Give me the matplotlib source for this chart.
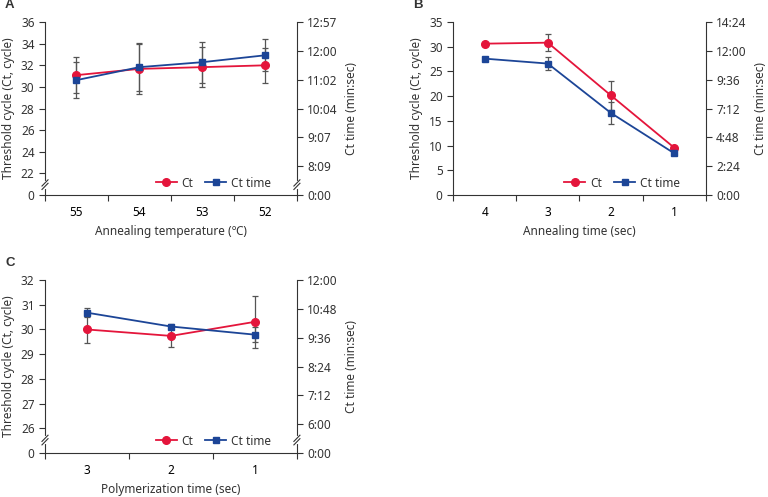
import numpy as np
import matplotlib
matplotlib.use("Agg")
import matplotlib.pyplot as plt

plt.rcParams['font.family'] = ['Noto Sans', 'DejaVu Sans']
plt.rcParams['font.size'] = 8.5

RED = '#e4153b'
BLUE = '#1c4597'
GREY = '#333333'

# Panel A: annealing temperature
a_labels = ['55', '54', '53', '52']
a_ct = [31.09, 31.67, 31.83, 32.0]
a_ct_err = [1.66, 2.3, 1.85, 1.6]
a_time = [30.63, 31.83, 32.29, 32.93]
a_time_err = [1.66, 2.2, 1.9, 1.5]

# Panel B: annealing time
b_labels = ['4', '3', '2', '1']
b_ct = [30.63, 30.83, 20.15, 9.6]
b_ct_err = [0.2, 1.7, 2.85, 0.2]
b_time = [27.6, 26.6, 16.6, 8.46]
b_time_err = [0.2, 1.35, 2.2, 0.2]

# Panel C: polymerization time
c_labels = ['3', '2', '1']
c_ct = [30.0, 29.74, 30.31]
c_ct_err = [0.53, 0.46, 1.05]
c_time = [30.68, 30.12, 29.79]
c_time_err = [0.17, 0.1, 0.3]


def mmss(s):
    s = int(s + 1e-6)
    return '%d:%02d' % (s // 60, s % 60)


def break_marks(ax, x, y):
    # little "//" mark on a spine, in axes coords
    kw = dict(transform=ax.transAxes, clip_on=False, zorder=10)
    ax.plot([x, x], [y - 0.012, y + 0.012], color='white', lw=3, **kw)
    for d in (-0.01, 0.01):
        ax.plot([x - 0.012, x + 0.012], [y + d - 0.018, y + d + 0.018],
                color=GREY, lw=0.8, **kw)


def panel(rect, letter, labels, ct, ct_err, tm, tm_err, xlabel,
          ylim, yticks, yticklabels, rlim, rticks, rticklabels, brk):
    ax = fig.add_axes(rect)
    n = len(labels)
    x = np.arange(n) + 0.5
    ax.errorbar(x, ct, yerr=ct_err, fmt='none', ecolor='#555555', elinewidth=0.9,
                capsize=2.5, capthick=0.9, zorder=2)
    ax.errorbar(x, tm, yerr=tm_err, fmt='none', ecolor='#555555', elinewidth=0.9,
                capsize=2.5, capthick=0.9, zorder=2)
    ax.plot(x, ct, color=RED, marker='o', ms=5.5, lw=1.3, label='Ct', zorder=3)
    ax.plot(x, tm, color=BLUE, marker='s', ms=5, lw=1.3, label='Ct time', zorder=3)

    ax.set_xlim(0, n)
    ax.set_xticks(np.arange(n + 1))
    ax.set_xticklabels([])
    ax.set_xticks(x, minor=True)
    ax.set_xticklabels(labels, minor=True)
    ax.tick_params(axis='x', which='minor', length=0, pad=8)
    ax.tick_params(axis='x', which='major', length=4, color=GREY)
    ax.set_xlabel(xlabel, color=GREY, labelpad=4)

    ax.set_ylim(*ylim)
    ax.set_yticks(yticks)
    ax.set_yticklabels(yticklabels)
    ax.tick_params(axis='y', length=4, color=GREY, labelcolor=GREY)
    ax.tick_params(axis='x', labelcolor=GREY)
    ax.set_ylabel('Threshold cycle (Ct, cycle)', color=GREY, labelpad=4)
    for s in ('top', 'right'):
        ax.spines[s].set_visible(False)
    for s in ('left', 'bottom'):
        ax.spines[s].set_color(GREY)
        ax.spines[s].set_linewidth(0.8)

    ax2 = ax.twinx()
    ax2.set_ylim(*rlim)
    ax2.set_yticks(rticks)
    ax2.set_yticklabels(rticklabels)
    ax2.tick_params(axis='y', length=4, color=GREY, labelcolor=GREY)
    ax2.set_ylabel('Ct time (min:sec)', color=GREY, labelpad=5)
    for s in ('top', 'left', 'bottom'):
        ax2.spines[s].set_visible(False)
    ax2.spines['right'].set_color(GREY)
    ax2.spines['right'].set_linewidth(0.8)

    ax.legend(loc='lower right', ncol=2, frameon=False, fontsize=8.5,
              handlelength=1.8, columnspacing=1.0, handletextpad=0.4,
              bbox_to_anchor=(0.94, -0.03), labelcolor=GREY)

    if brk is not None:
        break_marks(ax2, 0, brk)
        break_marks(ax2, 1, brk)

    fig.text(rect[0] - 0.052, rect[1] + rect[3] + 0.028, letter,
             fontweight='bold', fontsize=9.5, color=GREY,
             family=['Liberation Sans', 'DejaVu Sans'])
    return ax


fig = plt.figure(figsize=(7.68, 4.97), dpi=100)

# A
a_yt = [20] + list(range(22, 37, 2))
a_ytl = ['0'] + [str(v) for v in range(22, 37, 2)]
a_rt = [20 * 21.6] + [36 * 21.6 - 57.6 * k for k in range(5, -1, -1)]
a_rtl = ['0:00'] + [mmss(v) for v in a_rt[1:]]
panel([0.0586, 0.6076, 0.328, 0.348], 'A', a_labels, a_ct, a_ct_err, a_time,
      a_time_err, 'Annealing temperature (\u2103)', (20, 36), a_yt, a_ytl,
      (20 * 21.6, 36 * 21.6), a_rt, a_rtl, 0.06)

# B
b_yt = list(range(0, 36, 5))
b_rt = list(range(0, 865, 144))
panel([0.590, 0.6076, 0.3288, 0.348], 'B', b_labels, b_ct, b_ct_err, b_time,
      b_time_err, 'Annealing time (sec)', (0, 35), b_yt, [str(v) for v in b_yt],
      (0, 864), b_rt, [mmss(v) for v in b_rt], None)

# C
c_yt = [25] + list(range(26, 33))
c_ytl = ['0'] + [str(v) for v in range(26, 33)]
c_rt = list(range(288, 721, 72))
c_rtl = ['0:00'] + [mmss(v) for v in c_rt[1:]]
panel([0.0586, 0.0885, 0.328, 0.348], 'C', c_labels, c_ct, c_ct_err, c_time,
      c_time_err, 'Polymerization time (sec)', (25, 32), c_yt, c_ytl,
      (288, 720), c_rt, c_rtl, 0.075)

fig.savefig('out.png', dpi=100)
